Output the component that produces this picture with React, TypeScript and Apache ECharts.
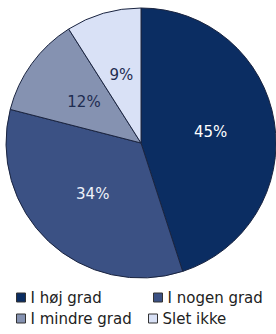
import React, { useEffect, useRef } from "react";
import * as echarts from "echarts";

const categories = ["I høj grad", "I nogen grad", "I mindre grad", "Slet ikke"];
const values = [45, 34, 12, 9];
const colors = ["#0b2d62", "#3b5184", "#8592b1", "#d9e1f6"];
const labelColors = ["#ffffff", "#eef2fa", "#1e2c50", "#1e2c50"];
const legendPos = [
  { left: 16, top: 290 },
  { left: 153, top: 290 },
  { left: 16, top: 311 },
  { left: 148, top: 311 },
];

export default function App() {
  const ref = useRef<HTMLDivElement>(null);
  useEffect(() => {
    if (!ref.current) return;
    const chart = echarts.init(ref.current, null, { renderer: "svg" });
    chart.setOption({
      animation: false,
      backgroundColor: "#ffffff",
      legend: categories.map((c, i) => ({
        data: [c],
        left: legendPos[i].left,
        top: legendPos[i].top,
        icon: "rect",
        itemWidth: 9,
        itemHeight: 9,
        itemGap: 4,
        padding: 0,
        selectedMode: false,
        textStyle: { fontFamily: "DejaVu Sans", fontSize: 15, color: "#222", padding: [0, 0, 0, 0] },
        itemStyle: { borderColor: "#333", borderWidth: 1 },
      })),
      series: [
        {
          type: "pie",
          center: [141, 143],
          radius: [0, 135],
          startAngle: 90,
          clockwise: true,
          label: {
            position: "inside",
            formatter: "{c}%",
            fontFamily: "DejaVu Sans",
            fontSize: 15,
          },
          labelLine: { show: false },
          itemStyle: { borderColor: "#1a2440", borderWidth: 1 },
          data: categories.map((c, i) => ({
            name: c,
            value: values[i],
            itemStyle: { color: colors[i] },
            label: { color: labelColors[i] },
          })),
        },
      ],
    });
    return () => chart.dispose();
  }, []);
  return <div ref={ref} style={{ width: 276, height: 334, position: "absolute", left: 0, top: 0 }} />;
}
